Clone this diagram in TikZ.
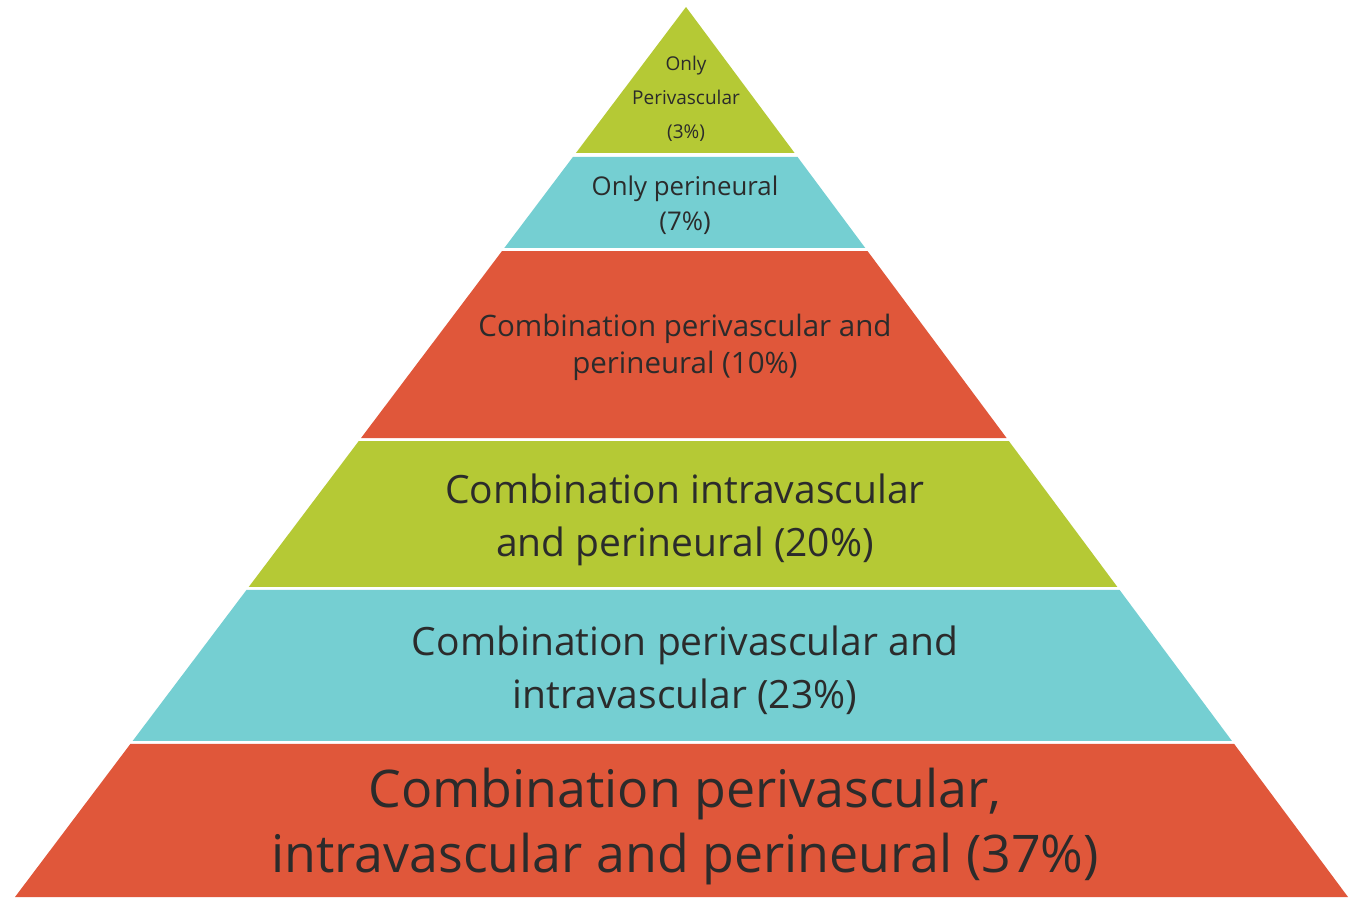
\documentclass[tikz,border=0pt]{standalone}
\usepackage{fontspec}
\setmainfont{Open Sans}
\usetikzlibrary{calc}
\definecolor{pgreen}{HTML}{B5C935}
\definecolor{pcyan}{HTML}{75CFD2}
\definecolor{pred}{HTML}{E0573A}
\definecolor{ptext}{HTML}{2B2B2B}
\tikzset{
  label text/.style={text=ptext, align=center, inner sep=0pt},
}
\newcommand{\pyrband}[3]{%
  \pgfmathsetmacro{\ta}{(#1-7)/890}%
  \pgfmathsetmacro{\tb}{(#2-7)/890}%
  \fill[#3] ($(A)!\ta!(BL)$) -- ($(A)!\ta!(BR)$) -- ($(A)!\tb!(BR)$) -- ($(A)!\tb!(BL)$) -- cycle;%
}
\begin{document}
\begin{tikzpicture}[x=1pt,y=-1pt]
\useasboundingbox (0,0) rectangle (1350,902);
\fill[white] (0,0) rectangle (1350,902);
\coordinate (A) at (686,7);
\coordinate (BL) at (15,897);
\coordinate (BR) at (1348,897);
\pyrband{7}{153}{pgreen}
\pyrband{157}{248}{pcyan}
\pyrband{251}{438}{pred}
\pyrband{441}{587}{pgreen}
\pyrband{590}{741}{pcyan}
\pyrband{744}{897}{pred}
\node[label text, font=\fontsize{19}{34}\selectfont] (t1) at (686,99) {Only\\Perivascular\\(3\%)};
\node[label text, font=\fontsize{25.8}{35}\selectfont] (t2) at (685,205) {Only perineural\\(7\%)};
\node[label text, font=\fontsize{29.5}{37}\selectfont] (t3) at (685,347) {Combination perivascular and\\perineural (10\%)};
\node[label text, font=\fontsize{39}{53}\selectfont] (t4) at (685,520) {Combination intravascular\\and perineural (20\%)};
\node[label text, font=\fontsize{39}{53}\selectfont] (t5) at (685,670) {Combination perivascular and\\intravascular (23\%)};
\node[label text, font=\fontsize{51.9}{65}\selectfont] (t6) at (685,827) {Combination perivascular,\\intravascular and perineural (37\%)};
\end{tikzpicture}
\end{document}
